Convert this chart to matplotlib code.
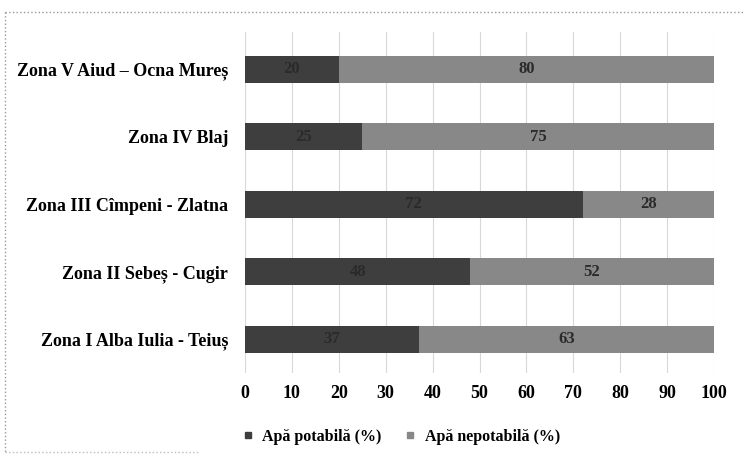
import matplotlib
matplotlib.use("Agg")
import matplotlib.pyplot as plt
from matplotlib.lines import Line2D

categories = ["Zona I Alba Iulia - Teiuș", "Zona II Sebeș - Cugir", "Zona III Cîmpeni - Zlatna",
              "Zona IV Blaj", "Zona V Aiud – Ocna Mureș"]
potabila = [37, 48, 72, 25, 20]
nepotabila = [63, 52, 28, 75, 80]
series_names = ["Apă potabilă (%)", "Apă nepotabilă (%)"]
xticks = [0, 10, 20, 30, 40, 50, 60, 70, 80, 90, 100]

plt.rcParams['font.family'] = ['Liberation Serif', 'DejaVu Serif']
plt.rcParams['font.weight'] = 'bold'

W, H = 743, 458
fig = plt.figure(figsize=(W/100, H/100), dpi=100)
ax = fig.add_axes([245/W, 1-373/H, (714-245)/W, (373-32)/H])

c1, c2 = "#3e3e3e", "#888888"
y = list(range(len(categories)))
ax.barh(y, potabila, height=0.4, color=c1, label=series_names[0], zorder=3)
ax.barh(y, nepotabila, left=potabila, height=0.4, color=c2, label=series_names[1], zorder=3)
for i in y:
    ax.text(potabila[i]/2, i, str(potabila[i]), ha='center', va='center', fontsize=12,
            color="#2a2a2a", zorder=4, fontweight='bold')
    ax.text(potabila[i] + nepotabila[i]/2, i, str(nepotabila[i]), ha='center', va='center',
            fontsize=12, color="#2a2a2a", zorder=4, fontweight='bold')

ax.set_xlim(0, 100)
ax.set_ylim(-0.5, 4.55)
ax.set_xticks(xticks)
ax.set_xticklabels([str(t) for t in xticks], fontsize=13, fontweight='bold')
ax.set_yticks(y)
ax.set_yticklabels(categories, fontsize=13, fontweight='bold')
ax.tick_params(axis='y', length=0, pad=12)
ax.tick_params(axis='x', length=0, pad=9)
ax.grid(axis='x', color="#d8d8d8", linewidth=0.8, zorder=0)
for s in ax.spines.values():
    s.set_visible(False)

handles = [Line2D([], [], marker='s', linestyle='none', color=c1, markersize=5),
           Line2D([], [], marker='s', linestyle='none', color=c2, markersize=5)]
fig.legend(handles, series_names, loc='center', bbox_to_anchor=(396/W, 1-437/H), ncol=2,
           frameon=False, handletextpad=-0.1, columnspacing=0.8,
           prop={'weight': 'bold', 'size': 11.5})

# dotted frame
fig.add_artist(Line2D([5/W, 5/W], [1-12/H, 1-452/H], transform=fig.transFigure,
                      color="#999999", linestyle=':', linewidth=1))
fig.add_artist(Line2D([5/W, 1.0], [1-12/H, 1-12/H], transform=fig.transFigure,
                      color="#999999", linestyle=':', linewidth=1))
fig.add_artist(Line2D([5/W, 200/W], [1-452/H, 1-452/H], transform=fig.transFigure,
                      color="#bbbbbb", linestyle=':', linewidth=1))

fig.savefig("out.png", dpi=100)
